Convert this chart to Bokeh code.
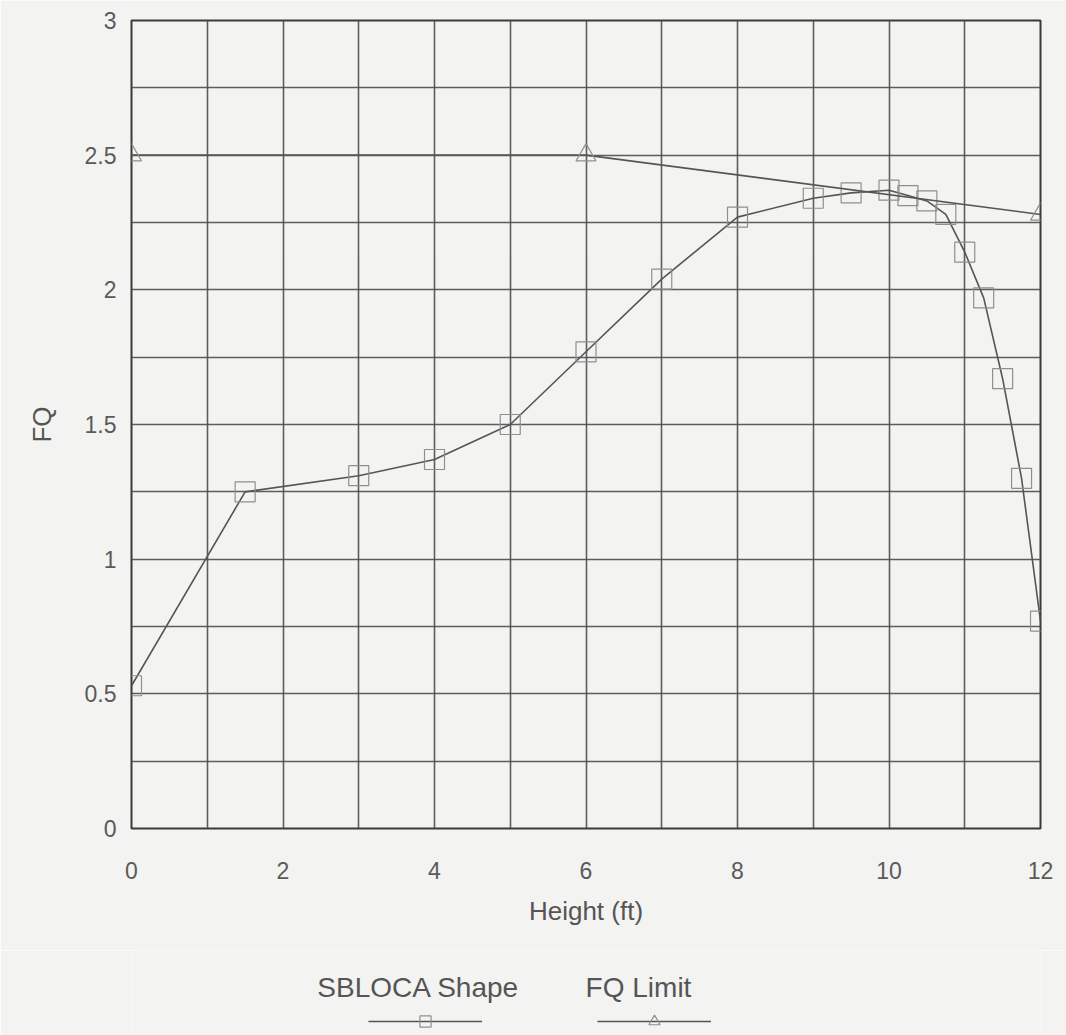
from bokeh.plotting import figure
from bokeh.layouts import column
from bokeh.models import (Range1d, FixedTicker, Legend, LegendItem, Label)
from bokeh.embed import file_html
from bokeh.resources import INLINE

# ---- data ----
sbloca_height = [0, 1.5, 3, 4, 5, 6, 7, 8, 9, 9.5, 10, 10.25, 10.5, 10.75, 11, 11.25, 11.5, 11.75, 12]
sbloca_fq = [0.53, 1.25, 1.31, 1.37, 1.50, 1.77, 2.04, 2.27, 2.34, 2.36, 2.37, 2.35, 2.33, 2.28, 2.14, 1.97, 1.67, 1.30, 0.77]
limit_height = [0, 6, 12]
limit_fq = [2.5, 2.5, 2.28]
x_ticks = [0, 2, 4, 6, 8, 10, 12]
y_ticks = [0, 0.5, 1, 1.5, 2, 2.5, 3]
x_grid = list(range(0, 13))
y_grid = [i * 0.25 for i in range(0, 13)]
series_names = ["SBLOCA Shape", "FQ Limit"]

FONT = "Liberation Sans"
BG = "#f3f3f1"
GRID = "#4d4d4d"
LINE = "#555555"
MARK = "#8f8f8f"
TXT = "#555555"

p = figure(width=1066, height=950, output_backend="svg", toolbar_location=None,
           x_range=Range1d(0, 12), y_range=Range1d(0, 3),
           min_border_left=131, min_border_right=26, min_border_top=20, min_border_bottom=122,
           background_fill_color=BG, border_fill_color=BG)

p.outline_line_color = "#3a3a3a"
p.outline_line_width = 2

p.xaxis.ticker = FixedTicker(ticks=x_ticks)
p.yaxis.ticker = FixedTicker(ticks=y_ticks)
p.xgrid.ticker = FixedTicker(ticks=x_grid)
p.ygrid.ticker = FixedTicker(ticks=y_grid)
for g in (p.xgrid, p.ygrid):
    g.grid_line_color = GRID
    g.grid_line_width = 1.6
    g.grid_line_alpha = 0.9

for ax in (p.xaxis, p.yaxis):
    ax.axis_line_color = None
    ax.major_tick_line_color = None
    ax.minor_tick_line_color = None
    ax.major_label_text_font = FONT
    ax.major_label_text_font_size = "23px"
    ax.major_label_text_color = "#5a5a5a"
    ax.axis_label_text_font = FONT
    ax.axis_label_text_font_style = "normal"
    ax.axis_label_text_font_size = "26px"
    ax.axis_label_text_color = TXT

p.xaxis.major_label_standoff = 27
p.yaxis.major_label_standoff = 9
p.xaxis.axis_label = "Height (ft)"
p.yaxis.axis_label = "FQ"
p.xaxis.axis_label_standoff = 14
p.yaxis.axis_label_standoff = 25

line_style = dict(line_color=LINE, line_width=1.6)
sq_style = dict(marker="square", size=20, fill_color=None, line_color=MARK, line_width=1.2)
tri_style = dict(marker="triangle", size=20, fill_color=None, line_color=MARK, line_width=1.2)

p.line(sbloca_height, sbloca_fq, **line_style)
p.scatter(sbloca_height, sbloca_fq, **sq_style)
p.line(limit_height, limit_fq, **line_style)
p.scatter(limit_height, limit_fq, **tri_style)

# ---- legend strip below the chart (text above the sample glyph, as in the original) ----
# Its frame is aligned with the main frame by the column layout; the proxy renderers
# carry the same series but lie outside this strip's (empty) y range, so only the
# legend samples show.
q = figure(width=1066, height=85, output_backend="svg", toolbar_location=None,
           x_range=Range1d(0, 12), y_range=Range1d(100, 200),
           x_axis_type=None, y_axis_type=None,
           min_border=0, background_fill_color=BG, border_fill_color=BG,
           outline_line_color=None)
q.xgrid.grid_line_color = None
q.ygrid.grid_line_color = None

ql1 = q.line(sbloca_height, sbloca_fq, **line_style)
qm1 = q.scatter(sbloca_height, sbloca_fq, **dict(sq_style, size=14))
ql2 = q.line(limit_height, limit_fq, **line_style)
qm2 = q.scatter(limit_height, limit_fq, **dict(tri_style, size=14))

legend = Legend(items=[LegendItem(label=" ", renderers=[ql1, qm1]),
                       LegendItem(label=" ", renderers=[ql2, qm2])],
                orientation="horizontal", location=(237, 0),
                glyph_width=114, glyph_height=28, label_width=0, label_standoff=0,
                label_text_font_size="1px",
                spacing=115, padding=0, margin=0,
                border_line_alpha=0, background_fill_alpha=0)
q.add_layout(legend, "center")

for txt, cx in zip(series_names, (287, 507)):
    q.add_layout(Label(x=cx, y=48, x_units="screen", y_units="screen", text=txt,
                       text_align="center", text_baseline="middle",
                       text_font=FONT, text_font_size="28px", text_color=TXT))

open("out.html", "w").write(file_html(column(p, q, spacing=0), INLINE))
